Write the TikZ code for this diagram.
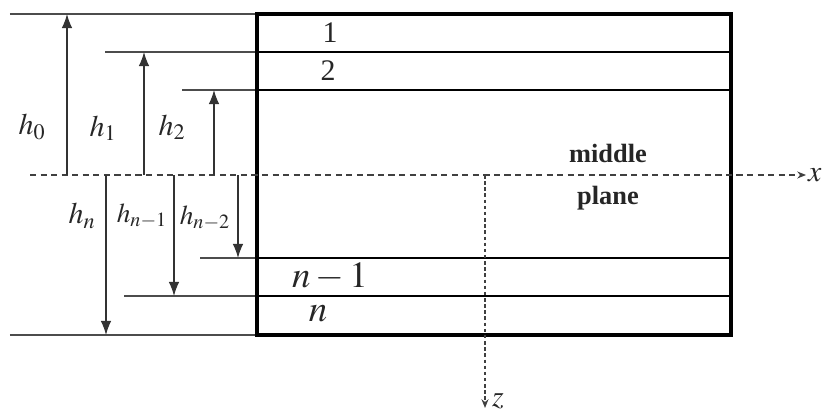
\documentclass[tikz,border=0pt]{standalone}
\usepackage{mathptmx}
\usepackage{fontspec}
\setmainfont{Liberation Serif}
\usetikzlibrary{arrows,arrows.meta,calc}
\tikzset{
  guide/.style={line width=0.6pt,color=black!70},
  plate/.style={line width=1.8pt,color=black},
  axis/.style={line width=0.8pt,color=black!75,-{Stealth[length=5pt,width=4pt]}},
  height/.style={line width=0.7pt,color=black!80,-{Latex[length=8pt,width=6pt]}},
  hlabel/.style={font=\fontsize{17}{19}\selectfont,text=black!85},
  layerlabel/.style={font=\fontsize{17}{19}\selectfont,text=black!85},
  planelabel/.style={font=\fontsize{15}{17}\selectfont\bfseries,text=black!85}
}

\begin{document}
\begin{tikzpicture}
\useasboundingbox (0,0) rectangle (16.54,8.22);

% plate corners and layer lines
\coordinate (T1) at (5.14,7.94);  \coordinate (T2) at (14.62,7.94);
\coordinate (B1) at (5.14,1.52);  \coordinate (B2) at (14.62,1.52);
\coordinate (E1) at (5.14,7.18);  \coordinate (R1) at (14.62,7.18);
\coordinate (E2) at (5.14,6.42);  \coordinate (R2) at (14.62,6.42);
\coordinate (Em) at (5.14,3.06);  \coordinate (Rm) at (14.62,3.06);
\coordinate (En) at (5.14,2.30);  \coordinate (Rn) at (14.62,2.30);
% extension lines on the left
\coordinate (L0) at (0.2,7.94);   \coordinate (L1) at (2.1,7.18);
\coordinate (L2) at (3.64,6.42);  \coordinate (Lm) at (4.0,3.06);
\coordinate (Ln) at (2.48,2.30);  \coordinate (Lb) at (0.2,1.52);
% middle plane and axes
\coordinate (M) at (0.6,4.72);    \coordinate (X) at (16.12,4.72);
\coordinate (O) at (9.70,4.72);   \coordinate (Z) at (9.70,0.06);
% heights
\foreach \n/\x/\y in {0/1.34/7.94,1/2.88/7.18,2/4.28/6.42,b/2.12/1.52,n/3.48/2.30,m/4.76/3.06}{
  \coordinate (A\n) at (\x,4.72);
  \coordinate (C\n) at (\x,\y);
}

\foreach \p/\q in {L0/T1,L1/E1,L2/E2,Lm/Em,Ln/En,Lb/B1}
  \draw[guide] (\p) -- (\q);
\draw[plate] (T1) -- (T2) -- (B2) -- (B1) -- cycle;
\foreach \p/\q in {E1/R1,E2/R2,Em/Rm,En/Rn}
  \draw[plate,line width=1.6pt] (\p) -- (\q);

\draw[axis,dash pattern=on 3.5pt off 2.5pt] (M) -- (X);
\draw[axis,dash pattern=on 2pt off 1.5pt] (O) -- (Z);

\foreach \n in {0,1,2,b,n,m}
  \draw[height] (A\n) -- (C\n);

\node[hlabel] (h0) at (0.64,5.68) {$h_0$};
\node[hlabel] (h1) at (2.06,5.66) {$h_1$};
\node[hlabel] (h2) at (3.44,5.68) {$h_2$};
\node[hlabel] (hn) at (1.64,3.90) {$h_n$};
\node[hlabel,font=\fontsize{15.5}{18}\selectfont] (hn1) at (2.84,3.90) {$h_{n-1}$};
\node[hlabel,font=\fontsize{15.5}{18}\selectfont] (hn2) at (4.10,3.86) {$h_{n-2}$};

\node[layerlabel] (ly1) at (6.60,7.56) {1};
\node[layerlabel] (ly2) at (6.56,6.80) {2};
\node[layerlabel,font=\fontsize{21}{23}\selectfont] (lyn1) at (6.60,2.68) {$n-1$};
\node[layerlabel,font=\fontsize{21}{23}\selectfont] (lyn) at (6.36,1.94) {$n$};

\node[planelabel] (mid) at (12.16,5.16) {middle};
\node[planelabel] (pla) at (12.16,4.26) {plane};

\node[hlabel,anchor=west,inner sep=1pt] (xl) at (X) {$x$};
\node[hlabel,anchor=west,inner sep=1pt] (zl) at (9.80,0.20) {$z$};
\end{tikzpicture}
\end{document}
